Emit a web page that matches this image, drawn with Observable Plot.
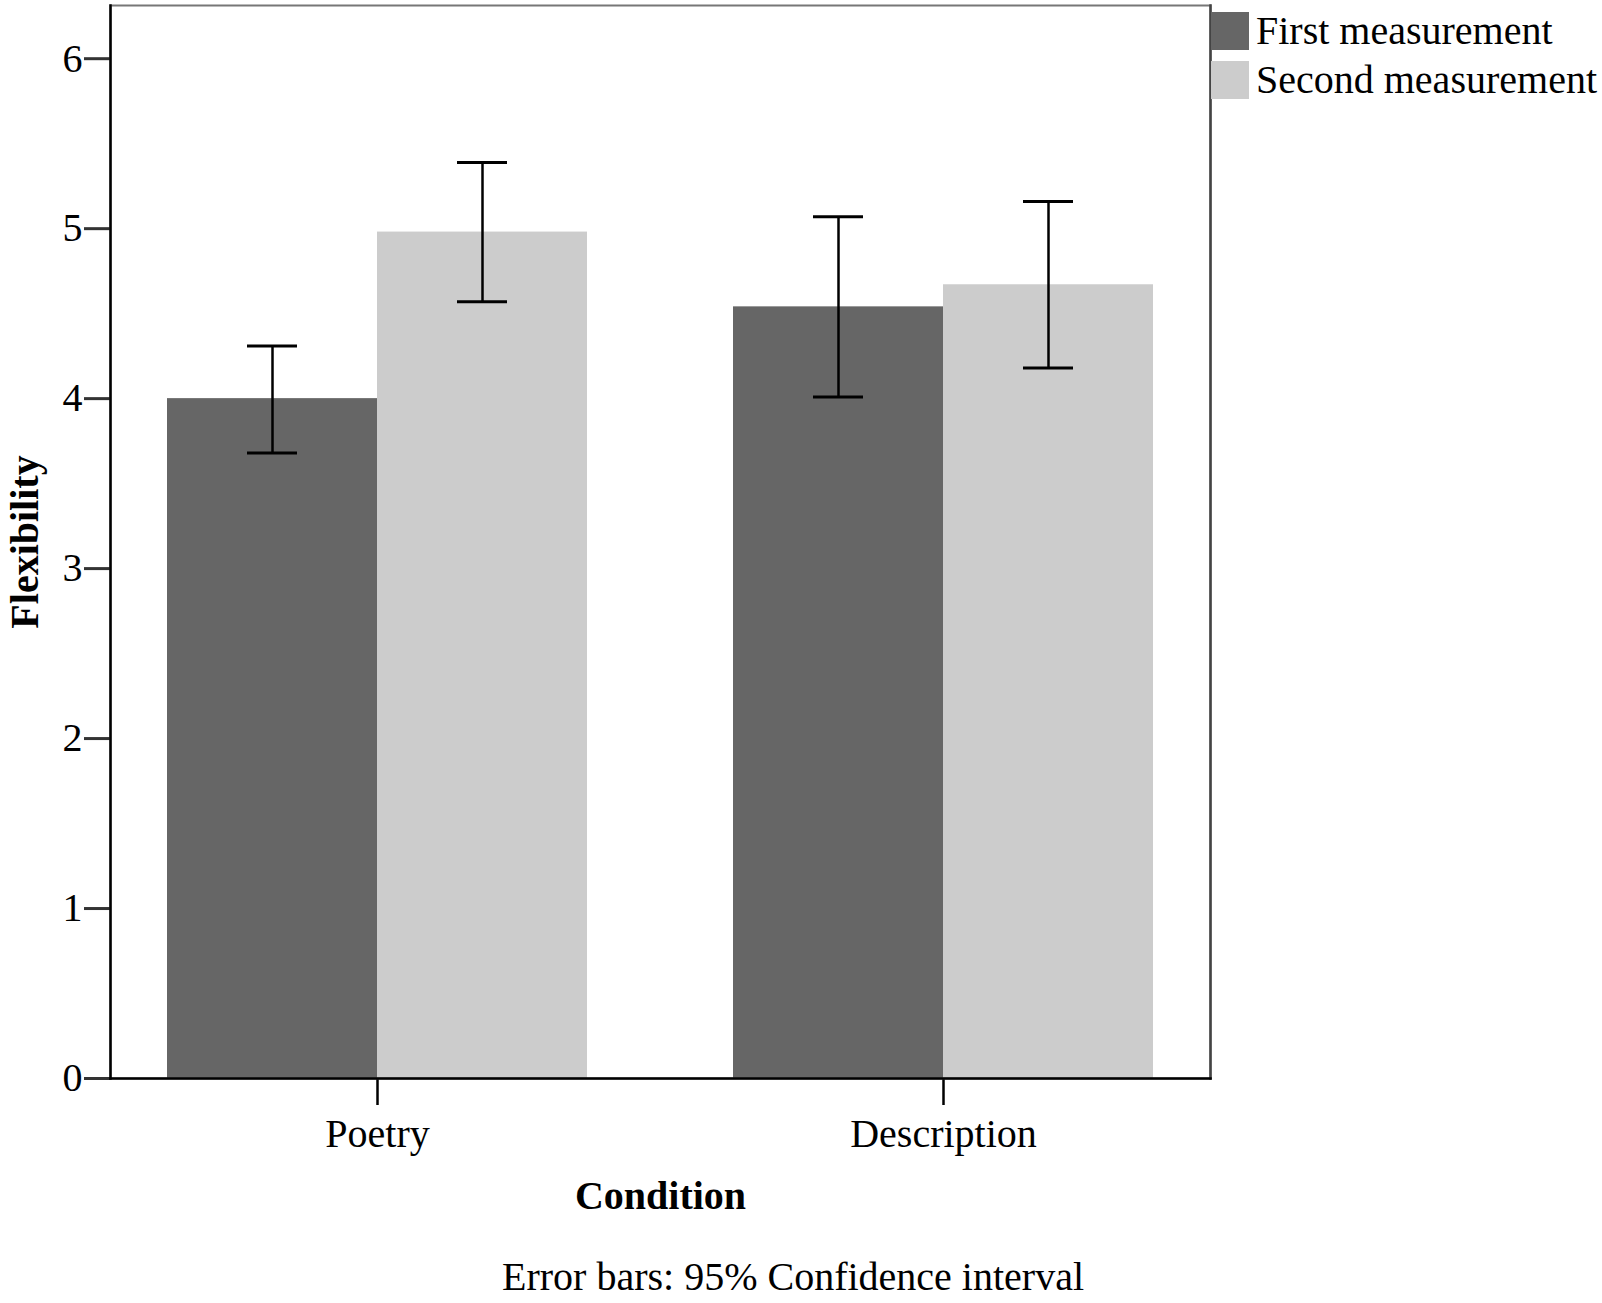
<!DOCTYPE html>
<html><head><meta charset="utf-8">
<script src="https://cdn.jsdelivr.net/npm/d3@7"></script>
<script src="https://cdn.jsdelivr.net/npm/@observablehq/plot@0.6"></script>
<style>
body{margin:0;background:#fff;font-family:"Liberation Serif",serif;}
#wrap{position:relative;width:1602px;height:1303px;}
#legend{position:absolute;left:1211px;top:6px;}
.row{display:flex;align-items:center;height:49px;}
.sw{width:38px;height:38px;margin-right:7px;}
.lab{font-size:40px;line-height:38px;color:#000;white-space:nowrap;}
#caption{position:absolute;left:0;width:1586px;top:1252px;text-align:center;font-size:40px;line-height:50px;color:#000;}
#chart g[aria-label="y-axis tick"] path{stroke:#333;stroke-width:3px;}
#chart g[aria-label="fx-axis tick"] path{stroke:#000;stroke-width:2.5px;}
</style></head><body>
<div id="wrap"><div id="chart"></div><div id="legend"></div><div id="caption"></div></div>
<script>
const conditions = ["Poetry", "Description"];
const measurements = ["First measurement", "Second measurement"];
const firstMean = [4.00, 4.54];
const secondMean = [4.98, 4.67];
const firstLow = [3.68, 4.01];
const firstHigh = [4.31, 5.07];
const secondLow = [4.57, 4.18];
const secondHigh = [5.39, 5.16];
const colors = ["#666666", "#cccccc"];
const yTicks = [0, 1, 2, 3, 4, 5, 6];
const yLabel = "Flexibility";
const xLabel = "Condition";
const captionText = "Error bars: 95% Confidence interval";

const rows = [];
conditions.forEach((c, i) => {
  rows.push({condition: c, measurement: measurements[0], mean: firstMean[i], low: firstLow[i], high: firstHigh[i]});
  rows.push({condition: c, measurement: measurements[1], mean: secondMean[i], low: secondLow[i], high: secondHigh[i]});
});

const chart = Plot.plot({
  width: 1602, height: 1240,
  marginLeft: 109, marginRight: 391, marginTop: 5, marginBottom: 162,
  style: {fontFamily: "Liberation Serif", fontSize: "40px", color: "#000", background: "#fff"},
  fx: {domain: conditions, paddingInner: 0.0564, paddingOuter: 0, axis: "bottom",
       label: xLabel, tickSize: 27, tickPadding: 13, labelOffset: 130, labelAnchor: "center"},
  x: {domain: measurements, paddingInner: 0, paddingOuter: 0.268, axis: null},
  y: {domain: [0, 6.313], ticks: yTicks, tickSize: 26, tickPadding: 2, label: yLabel,
      labelAnchor: "center", labelOffset: 101, tickFormat: d => String(d), labelArrow: "none"},
  color: {domain: measurements, range: colors},
  marks: [
    Plot.barY(rows, {fx: "condition", x: "measurement", y: "mean", fill: "measurement"}),
    Plot.ruleX(rows, {fx: "condition", x: "measurement", y1: "low", y2: "high", stroke: "#000", strokeWidth: 2.5}),
    Plot.tickY(rows, {fx: "condition", x: "measurement", y: "low", stroke: "#000", strokeWidth: 3, insetLeft: 80, insetRight: 80}),
    Plot.tickY(rows, {fx: "condition", x: "measurement", y: "high", stroke: "#000", strokeWidth: 3, insetLeft: 80, insetRight: 80}),
    Plot.frame({facet: "super", stroke: "#777", strokeWidth: 2}),
    Plot.frame({facet: "super", anchor: "right", stroke: "#444", strokeWidth: 2.5}),
    Plot.frame({facet: "super", anchor: "left", stroke: "#000", strokeWidth: 2.5}),
    Plot.frame({facet: "super", anchor: "bottom", stroke: "#000", strokeWidth: 2.5})
  ]
});
chart.querySelectorAll("text").forEach(t => {
  if (t.textContent.includes(yLabel) || t.textContent.includes(xLabel)) t.setAttribute("font-weight", "bold");
});
document.getElementById("chart").appendChild(chart);

const legend = document.getElementById("legend");
measurements.forEach((m, i) => {
  const row = document.createElement("div"); row.className = "row";
  const sw = document.createElement("div"); sw.className = "sw"; sw.style.background = colors[i];
  const lab = document.createElement("span"); lab.className = "lab"; lab.textContent = m;
  row.appendChild(sw); row.appendChild(lab); legend.appendChild(row);
});
document.getElementById("caption").textContent = captionText;
</script>
</body></html>
